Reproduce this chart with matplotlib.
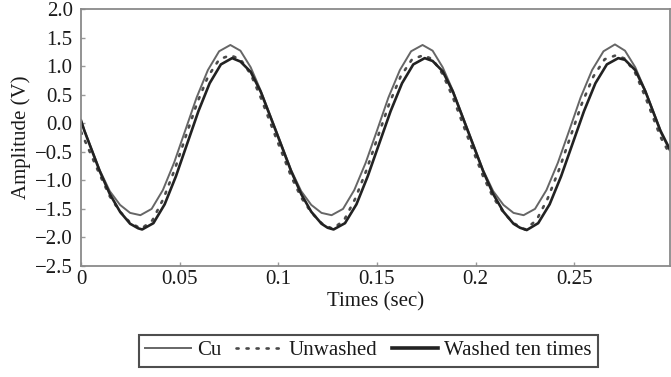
import matplotlib
matplotlib.use("Agg")
import matplotlib.pyplot as plt

plt.rcParams['font.family'] = ['Liberation Serif', 'DejaVu Serif']

# values (time in s, amplitude in V)
cu_t = [0, 0.0017, 0.0095, 0.0146, 0.0198, 0.0249, 0.0301,
        0.0358, 0.0415, 0.0472, 0.0529, 0.0586, 0.0643, 0.0700, 0.0757,
        0.0808, 0.0860, 0.0911, 0.0988, 0.1065, 0.1116, 0.1167, 0.1219, 0.1270,
        0.1328, 0.1385, 0.1443, 0.1501, 0.1558, 0.1616, 0.1673, 0.1731,
        0.1782, 0.1833, 0.1885, 0.1961, 0.2038, 0.2089, 0.2141, 0.2192, 0.2243,
        0.2301, 0.2359, 0.2417, 0.2475, 0.2532, 0.2590, 0.2648, 0.2706,
        0.2757, 0.2809, 0.2860, 0.2937, 0.2985]
cu_v = [0.05, -0.12, -0.82, -1.19, -1.43, -1.57, -1.61,
        -1.50, -1.17, -0.69, -0.12, 0.45, 0.93, 1.26, 1.37,
        1.27, 0.98, 0.57, -0.12, -0.82, -1.19, -1.43, -1.57, -1.61,
        -1.50, -1.17, -0.69, -0.12, 0.45, 0.93, 1.26, 1.37,
        1.27, 0.98, 0.57, -0.12, -0.82, -1.19, -1.43, -1.57, -1.61,
        -1.50, -1.17, -0.69, -0.12, 0.45, 0.93, 1.26, 1.38,
        1.27, 0.98, 0.57, -0.12, -0.45]

unwashed_t = [0, 0.0095, 0.0146, 0.0198, 0.0249, 0.0305,
              0.0362, 0.0418, 0.0475, 0.0531, 0.0588, 0.0644, 0.0701, 0.0757,
              0.0808, 0.0860, 0.0911, 0.0988, 0.1065, 0.1116, 0.1167, 0.1219, 0.1275,
              0.1333, 0.1390, 0.1448, 0.1505, 0.1563, 0.1620, 0.1678, 0.1735,
              0.1782, 0.1833, 0.1885, 0.1961, 0.2038, 0.2089, 0.2141, 0.2192, 0.2250,
              0.2308, 0.2365, 0.2423, 0.2481, 0.2539, 0.2597, 0.2654, 0.2712,
              0.2757, 0.2809, 0.2860, 0.2937, 0.2985]
unwashed_v = [-0.15, -0.90, -1.28, -1.55, -1.74, -1.85,
              -1.70, -1.32, -0.81, -0.23, 0.35, 0.82, 1.12, 1.19,
              1.12, 0.86, 0.45, -0.25, -0.93, -1.30, -1.56, -1.75, -1.85,
              -1.70, -1.32, -0.81, -0.23, 0.35, 0.82, 1.12, 1.19,
              1.12, 0.86, 0.45, -0.25, -0.93, -1.30, -1.56, -1.75, -1.86,
              -1.70, -1.32, -0.81, -0.23, 0.35, 0.82, 1.12, 1.19,
              1.13, 0.88, 0.46, -0.24, -0.55]

washed_t = [0, 0.0017, 0.0095, 0.0146, 0.0198, 0.0249, 0.0290, 0.0310,
            0.0367, 0.0424, 0.0481, 0.0538, 0.0595, 0.0652, 0.0709, 0.0766,
            0.0808, 0.0860, 0.0911, 0.0988, 0.1065, 0.1116, 0.1167, 0.1219, 0.1250, 0.1280,
            0.1338, 0.1396, 0.1453, 0.1511, 0.1569, 0.1627, 0.1684, 0.1742,
            0.1782, 0.1833, 0.1885, 0.1961, 0.2038, 0.2089, 0.2141, 0.2192, 0.2225, 0.2259,
            0.2317, 0.2375, 0.2433, 0.2491, 0.2549, 0.2607, 0.2665, 0.2723,
            0.2757, 0.2809, 0.2860, 0.2937, 0.2985]
washed_v = [0.05, -0.13, -0.84, -1.24, -1.55, -1.76, -1.84, -1.86,
            -1.75, -1.42, -0.93, -0.36, 0.21, 0.70, 1.03, 1.14,
            1.08, 0.90, 0.55, -0.14, -0.84, -1.24, -1.55, -1.76, -1.83, -1.86,
            -1.75, -1.42, -0.93, -0.36, 0.21, 0.70, 1.03, 1.14,
            1.09, 0.91, 0.55, -0.14, -0.84, -1.24, -1.55, -1.76, -1.83, -1.87,
            -1.75, -1.42, -0.93, -0.36, 0.21, 0.70, 1.03, 1.14,
            1.11, 0.93, 0.56, -0.14, -0.47]

x_ticks = [0, 0.05, 0.1, 0.15, 0.2, 0.25]
x_tick_labels = ['0', '0.05', '0.1', '0.15', '0.2', '0.25']
y_ticks = [-2.5, -2.0, -1.5, -1.0, -0.5, 0.0, 0.5, 1.0, 1.5, 2.0]

fig = plt.figure(figsize=(6.71, 3.77), dpi=100)
ax = fig.add_axes([0.1207, 0.2944, 0.8778, 0.6817])

ax.plot(cu_t, cu_v, color='#666666', lw=1.4, label='Cu')
ax.plot(unwashed_t, unwashed_v, color='#4a4a4a', lw=1.9, ls=(0, (0.8, 3.0)),
        dash_capstyle='round', label='Unwashed')
ax.plot(washed_t, washed_v, color='#222222', lw=1.9, label='Washed ten times')

ax.set_xlim(0, 0.2985)
ax.set_ylim(-2.5, 2.0)
ax.set_xticks(x_ticks)
ax.set_xticklabels(x_tick_labels)
ax.set_yticks(y_ticks)
ax.set_yticklabels([('%.1f' % v).replace('-', '\u2212') for v in y_ticks])

for s in ax.spines.values():
    s.set_color('#8a8a8a')
    s.set_linewidth(1.3)
ax.tick_params(direction='in', length=3, width=1, color='#9a9a9a',
               labelsize=15, labelcolor='#1a1a1a', pad=3)
ax.tick_params(axis='y', pad=6)

ax.set_xlabel('Times (sec)', fontsize=15, color='#1a1a1a', labelpad=2)
ax.set_ylabel('Amplitude (V)', fontsize=15, color='#1a1a1a', labelpad=3)

leg = fig.legend(loc='lower center', bbox_to_anchor=(0.549, 0.0), ncol=3,
                 fontsize=15, frameon=True, fancybox=False, handlelength=2.2,
                 handletextpad=0.3, columnspacing=0.7, borderpad=0.3,
                 labelcolor='#1a1a1a')
leg.get_frame().set_edgecolor('#222222')
leg.get_frame().set_linewidth(1.5)
leg.get_lines()[2].set_linewidth(2.6)

fig.savefig('out.png', dpi=100)
